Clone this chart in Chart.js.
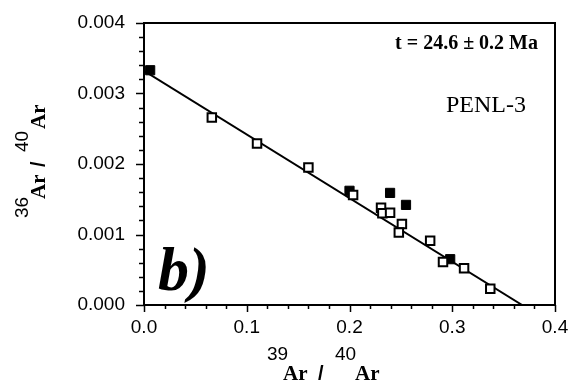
<!DOCTYPE html>
<html>
<head>
<meta charset="utf-8">
<script src="https://cdn.jsdelivr.net/npm/chart.js@4/dist/chart.umd.min.js"></script>
<style>
  body { margin: 0; background: #fff; }
  #wrap { width: 571px; height: 388px; }
</style>
</head>
<body>
<div id="wrap"><canvas id="isoChart" width="571" height="388"></canvas></div>
<script>
// 39Ar/40Ar vs 36Ar/40Ar isochron, sample PENL-3
const openX = [0.066, 0.110, 0.160, 0.2035, 0.2307, 0.232, 0.2395, 0.251, 0.248, 0.2785, 0.291, 0.3115, 0.337];
const openY = [0.00266, 0.00229, 0.00195, 0.00156, 0.00138, 0.00130, 0.00131, 0.00115, 0.00103, 0.00091, 0.00061, 0.00052, 0.00023];
const filledX = [0.006, 0.200, 0.2395, 0.255, 0.298];
const filledY = [0.00333, 0.00162, 0.00159, 0.00142, 0.00065];
const fitX = [0.0, 0.368];
const fitY = [0.00332, 0.0];
const xTicks = [0.0, 0.1, 0.2, 0.3, 0.4];
const yTicks = [0.000, 0.001, 0.002, 0.003, 0.004];

const toPoints = (xs, ys) => xs.map((x, i) => ({ x: x, y: ys[i] }));

// box, minor ticks, axis titles and the annotations
const decor = {
    id: 'decor',
    afterDraw(chart) {
        const ctx = chart.ctx;
        const a = chart.chartArea;
        const xs = chart.scales.x, ys = chart.scales.y;
        ctx.save();
        ctx.strokeStyle = '#000';
        ctx.lineWidth = 2;
        ctx.strokeRect(a.left, a.top, a.right - a.left, a.bottom - a.top);

        ctx.lineWidth = 1.5;
        ctx.beginPath();
        for (let v = 0; v <= 0.4001; v += 0.02) {
            const px = Math.round(xs.getPixelForValue(v)) + 0.5;
            const major = Math.abs(v * 10 - Math.round(v * 10)) < 1e-6;
            ctx.moveTo(px, a.bottom);
            ctx.lineTo(px, a.bottom + (major ? 7 : 4));
        }
        for (let v = 0; v <= 0.004001; v += 0.0002) {
            const py = Math.round(ys.getPixelForValue(v)) + 0.5;
            const major = Math.abs(v * 1000 - Math.round(v * 1000)) < 1e-6;
            ctx.moveTo(a.left, py);
            ctx.lineTo(a.left - (major ? 8 : 5), py);
        }
        ctx.stroke();

        ctx.fillStyle = '#000';
        ctx.textBaseline = 'alphabetic';
        // each part: text, font, offset along the reading direction, raise
        const drawIso = (parts) => {
            parts.forEach(p => {
                ctx.font = p.font;
                ctx.fillText(p.text, p.at, p.dy || 0);
            });
        };
        const supFont = '19px "Liberation Sans"';
        const arFont = 'bold 21px "Liberation Serif"';
        const slashFont = 'bold 20px "Liberation Sans"';

        ctx.save();
        ctx.translate(267, 380);
        drawIso([
            { text: '39', font: supFont, at: 0, dy: -20 },
            { text: 'Ar', font: arFont, at: 16 },
            { text: '/', font: slashFont, at: 51 },
            { text: '40', font: supFont, at: 68, dy: -20 },
            { text: 'Ar', font: arFont, at: 88 }
        ]);
        ctx.restore();

        ctx.save();
        ctx.translate(45, 218);
        ctx.rotate(-Math.PI / 2);
        drawIso([
            { text: '36', font: supFont, at: 0, dy: -17 },
            { text: 'Ar', font: arFont, at: 19 },
            { text: '/', font: slashFont, at: 51 },
            { text: '40', font: supFont, at: 66, dy: -17 },
            { text: 'Ar', font: arFont, at: 89 }
        ]);
        ctx.restore();

        ctx.font = 'bold 20px "Liberation Serif"';
        ctx.textAlign = 'right';
        ctx.fillText('t = 24.6 \u00b1 0.2 Ma', 538, 49);
        ctx.font = '24px "Liberation Serif"';
        ctx.textAlign = 'left';
        ctx.fillText('PENL-3', 446, 112);
        ctx.font = 'italic bold 62px "Liberation Serif"';
        ctx.fillText('b)', 158, 290);
        ctx.restore();
    }
};

const isoCtx = document.getElementById('isoChart').getContext('2d');
new Chart(isoCtx, {
    type: 'scatter',
    data: {
        datasets: [{
            label: 'open',
            data: toPoints(openX, openY),
            pointStyle: 'rect',
            pointRadius: 6,
            pointBackgroundColor: '#fff',
            pointBorderColor: '#000',
            pointBorderWidth: 2,
            order: 1
        }, {
            label: 'filled',
            data: toPoints(filledX, filledY),
            pointStyle: 'rect',
            pointRadius: 6.5,
            pointBackgroundColor: '#000',
            pointBorderColor: '#000',
            pointBorderWidth: 1,
            order: 2
        }, {
            type: 'line',
            label: 'fit',
            data: toPoints(fitX, fitY),
            borderColor: '#000',
            borderWidth: 2,
            pointRadius: 0,
            fill: false,
            order: 3
        }]
    },
    options: {
        responsive: false,
        animation: false,
        layout: { padding: { top: 23, right: 16, left: 0, bottom: 0 } },
        plugins: {
            legend: { display: false },
            tooltip: { enabled: false }
        },
        scales: {
            x: {
                type: 'linear',
                min: 0,
                max: 0.4,
                afterFit: s => { s.height = 83; s.paddingLeft = 0; s.paddingRight = 0; },
                afterBuildTicks: s => { s.ticks = xTicks.map(v => ({ value: v })); },
                grid: { display: false, drawTicks: false },
                border: { display: false },
                ticks: {
                    padding: 11,
                    color: '#000',
                    font: { family: 'Liberation Sans', size: 19 },
                    callback: v => v.toFixed(1)
                }
            },
            y: {
                type: 'linear',
                min: 0,
                max: 0.004,
                afterFit: s => { s.width = 144; s.paddingTop = 0; s.paddingBottom = 0; },
                afterBuildTicks: s => { s.ticks = yTicks.map(v => ({ value: v })); },
                grid: { display: false, drawTicks: false },
                border: { display: false },
                ticks: {
                    padding: 19,
                    color: '#000',
                    font: { family: 'Liberation Sans', size: 19 },
                    callback: v => v.toFixed(3)
                }
            }
        }
    },
    plugins: [decor]
});
</script>
</body>
</html>
